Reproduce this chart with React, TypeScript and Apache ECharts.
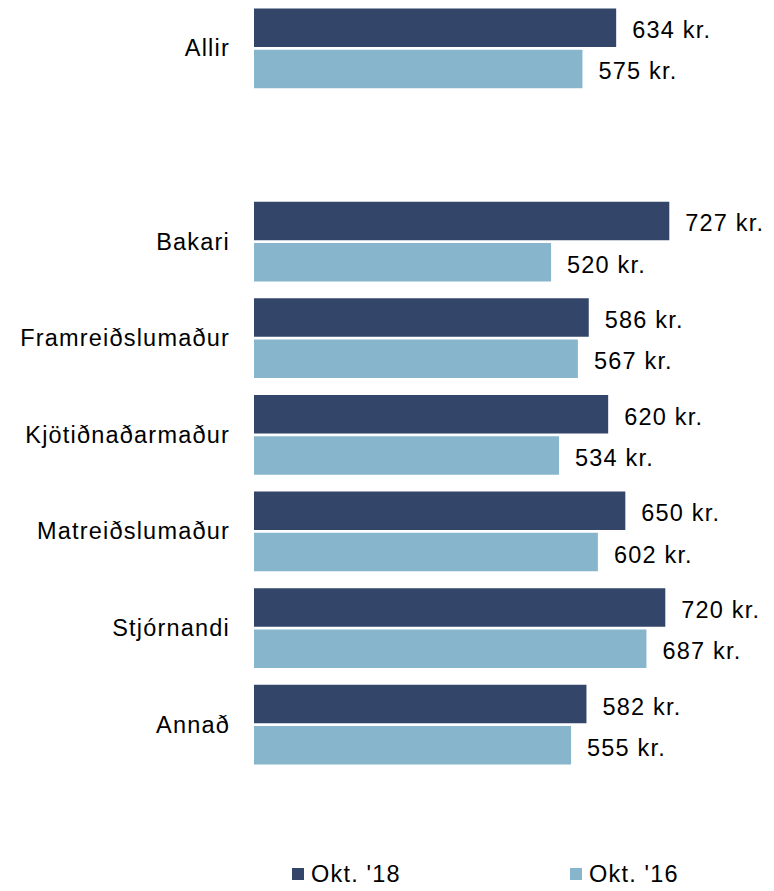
import React, { useEffect, useRef } from "react";
import * as echarts from "echarts";

const categories = [
  "Allir",
  "",
  "Bakari",
  "Framreiðslumaður",
  "Kjötiðnaðarmaður",
  "Matreiðslumaður",
  "Stjórnandi",
  "Annað",
];
const seriesNames = ["Okt. '18", "Okt. '16"];
const okt18 = [634, null, 727, 586, 620, 650, 720, 582];
const okt16 = [575, null, 520, 567, 534, 602, 687, 555];

const DARK = "#33466A";
const LIGHT = "#87B6CC";
const FONT = "'Liberation Sans', Arial, sans-serif";
const FS = 23.5;

export default function App() {
  const ref = useRef<HTMLDivElement>(null);

  useEffect(() => {
    if (!ref.current) return;
    const chart = echarts.init(ref.current, undefined, { renderer: "svg" });
    const labelCfg = {
      show: true,
      position: "right",
      distance: 16,
      offset: [0, 2.5],
      color: "#000",
      fontSize: FS,
      fontFamily: FONT,
      formatter: (p: any) => `${p.value} kr.`,
    };
    const legendText = { color: "#000", fontSize: FS, fontFamily: FONT, padding: [3, 0, 0, 2] };
    chart.setOption({
      animation: false,
      backgroundColor: "#fff",
      grid: { left: 254, right: 63, top: -1, height: 774, containLabel: false },
      xAxis: {
        type: "value",
        min: 0,
        max: 800,
        show: false,
      },
      yAxis: {
        type: "category",
        inverse: true,
        data: categories,
        axisLine: { show: false },
        axisTick: { show: false },
        axisLabel: {
          margin: 24,
          color: "#000",
          fontSize: FS,
          fontFamily: FONT,
        },
      },
      legend: [
        {
          data: [seriesNames[0]],
          left: 287,
          top: 857,
          icon: "rect",
          itemWidth: 12,
          itemHeight: 12,
          textStyle: legendText,
          selectedMode: false,
        },
        {
          data: [seriesNames[1]],
          left: 565,
          top: 857,
          icon: "rect",
          itemWidth: 12,
          itemHeight: 12,
          textStyle: legendText,
          selectedMode: false,
        },
      ],
      series: [
        {
          name: seriesNames[0],
          type: "bar",
          data: okt18,
          barWidth: 38.5,
          barGap: "7%",
          itemStyle: { color: DARK },
          label: labelCfg,
        },
        {
          name: seriesNames[1],
          type: "bar",
          data: okt16,
          barWidth: 38.5,
          barGap: "7%",
          itemStyle: { color: LIGHT },
          label: labelCfg,
        },
      ],
    });
    return () => chart.dispose();
  }, []);

  return (
    <>
      <style>{`#chart-root text { letter-spacing: 1.2px; }`}</style>
      <div
        id="chart-root"
        ref={ref}
        style={{ position: "absolute", left: 0, top: 0, width: 774, height: 891 }}
      />
    </>
  );
}
